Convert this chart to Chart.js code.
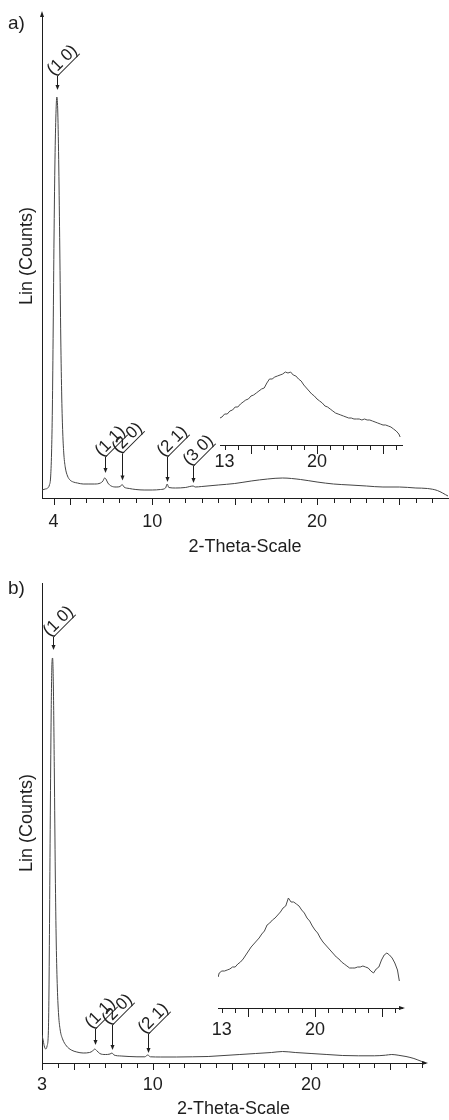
<!DOCTYPE html>
<html>
<head>
<meta charset="utf-8">
<title>XRD patterns</title>
<script src="https://cdn.jsdelivr.net/npm/chart.js@4.4.0/dist/chart.umd.min.js"></script>
<style>
  body { margin: 0; background: #fff; }
  #wrap { position: relative; width: 449px; height: 1120px; overflow: hidden; }
  #wrap canvas { position: absolute; }
</style>
</head>
<body>
<div id="wrap">
  <canvas id="chartA" width="449" height="560" style="left:0;top:0"></canvas>
  <canvas id="insetA" width="240" height="150" style="left:190px;top:330px"></canvas>
  <canvas id="chartB" width="449" height="560" style="left:0;top:560px"></canvas>
  <canvas id="insetB" width="240" height="190" style="left:190px;top:870px"></canvas>
</div>
<script>
// ---- pattern a ----
var thetaA = [3.3, 3.5, 3.65, 3.75, 3.82, 3.88, 3.93, 3.98, 4.03, 4.08, 4.14, 4.2, 4.26, 4.32, 4.38, 4.44, 4.5, 4.56, 4.63, 4.72,
  4.85, 5.0, 5.2, 5.45, 5.8, 6.1, 6.5, 6.85, 7.0, 7.1, 7.18, 7.3, 7.5, 7.8, 8.05, 8.16, 8.28, 8.6, 9.0, 9.5,
  10.0, 10.5, 10.8, 10.9, 11.0, 11.4, 12.0, 12.48, 12.6, 13.0, 14.0, 15.0, 16.0, 17.0, 17.9, 19.0, 20.0, 21.0, 22.0, 23.0,
  24.0, 25.0, 26.0, 26.7, 27.3, 27.95];
var countsA = [80, 90, 100, 130, 200, 450, 900, 1700, 2600, 3300, 3800, 4010, 3850, 3300, 2500, 1600, 1000, 650, 430, 300,
  220, 180, 160, 150, 140, 140, 140, 150, 170, 200, 190, 150, 120, 110, 115, 135, 110, 95, 85, 80,
  80, 85, 100, 140, 105, 100, 105, 120, 110, 115, 130, 145, 170, 190, 200, 185, 160, 140, 130, 120,
  110, 110, 100, 95, 75, 20];
var ticksA = [4, 10, 20];
var peakThetaA = [4.2, 7.1, 8.16, 10.9, 12.48];
var peakNamesA = ['(1 0)', '(1 1)', '(2 0)', '(2 1)', '(3 0)'];

// inset a: amorphous hump, magnified
var insetThetaA = [12.65,
  12.8, 13.0, 13.2, 13.4, 13.6, 13.8, 14.0, 14.2, 14.4, 14.6,
  14.8, 15.0, 15.2, 15.4, 15.6, 15.8, 16.0, 16.2, 16.4, 16.6,
  16.8, 17.0, 17.2, 17.4, 17.6, 17.8, 18.0, 18.2, 18.4, 18.6,
  18.8, 19.0, 19.2, 19.4, 19.6, 19.8, 20.0, 20.2, 20.4, 20.6,
  20.8, 21.0, 21.2, 21.4, 21.6, 21.8, 22.0, 22.2, 22.4, 22.6,
  22.8, 23.0, 23.2, 23.4, 23.6, 23.8, 24.0, 24.2, 24.4, 24.6,
  24.8, 25.0, 25.2, 25.4, 25.6, 25.8, 26.0, 26.2, 26.3];
var insetCountsA = [27,
  28, 31, 31, 34, 35, 38, 38, 41, 43, 45,
  46, 49, 50, 52, 54, 56, 57, 62, 66, 66,
  68, 69, 70, 71, 73, 72, 73, 70, 69, 66,
  64, 60, 57, 54, 51, 49, 46, 44, 42, 39,
  38, 36, 34, 32, 31, 30, 29, 28, 27, 27,
  26, 26, 26, 25, 26, 25, 25, 24, 23, 22,
  21, 20, 20, 19, 18, 16, 14, 11, 8];

// ---- pattern b ----
var thetaB = [3.0, 3.08, 3.16, 3.24, 3.32, 3.4, 3.44, 3.48, 3.53, 3.58, 3.63, 3.67, 3.72, 3.78, 3.84, 3.9, 3.97, 4.05, 4.15, 4.3,
  4.55, 4.85, 5.2, 5.6, 6.0, 6.2, 6.33, 6.45, 6.65, 7.0, 7.3, 7.42, 7.55, 8.0, 8.5, 9.0, 9.5, 9.68, 9.85, 10.5,
  11.5, 12.5, 13.5, 14.5, 15.5, 16.5, 17.5, 18.2, 19.0, 20.0, 21.0, 22.0, 23.0, 24.0, 24.7, 25.1, 25.5, 26.0, 26.5, 27.0,
  27.2];
var countsB = [280, 220, 160, 140, 170, 300, 700, 1500, 2600, 3500, 4000, 4050, 3750, 2900, 1900, 1200, 750, 480, 330, 240,
  170, 130, 110, 100, 105, 120, 140, 125, 95, 85, 90, 100, 80, 70, 65, 62, 62, 80, 62, 60,
  60, 62, 65, 75, 85, 95, 105, 115, 105, 95, 85, 75, 72, 72, 78, 85, 78, 65, 45, 15,
  5];
var ticksB = [3, 10, 20];
var peakThetaB = [3.67, 6.33, 7.42, 9.68];
var peakNamesB = ['(1 0)', '(1 1)', '(2 0)', '(2 1)'];

var insetThetaB = [12.72,
  12.8, 13.0, 13.2, 13.4, 13.6, 13.8, 14.0, 14.2, 14.4, 14.6,
  14.8, 15.0, 15.2, 15.4, 15.6, 15.8, 16.0, 16.2, 16.4, 16.6,
  16.8, 17.0, 17.2, 17.4, 17.6, 17.8, 18.0, 18.2, 18.4, 18.6,
  18.8, 19.0, 19.2, 19.4, 19.6, 19.8, 20.0, 20.2, 20.4, 20.6,
  20.8, 21.0, 21.2, 21.4, 21.6, 21.8, 22.0, 22.2, 22.4, 22.6,
  22.8, 23.0, 23.2, 23.4, 23.6, 23.8, 24.0, 24.2, 24.4, 24.6,
  24.8, 25.0, 25.2, 25.4, 25.6, 25.8, 26.0, 26.2, 26.34];
var insetCountsB = [31,
  35, 37, 37, 38, 39, 41, 41, 44, 46, 49,
  53, 57, 61, 64, 67, 70, 74, 77, 83, 85,
  88, 90, 93, 96, 100, 102, 110, 106, 106, 104,
  102, 98, 95, 90, 87, 82, 78, 75, 70, 66,
  63, 60, 57, 54, 51, 49, 46, 44, 42, 40,
  40, 40, 41, 41, 42, 41, 40, 37, 35, 39,
  41, 48, 53, 55, 53, 50, 45, 38, 27];
var insetTicks = [13, 20];

var FONT = '"Liberation Sans", Arial, Helvetica, sans-serif';
var INK = '#1e1e1e';
Chart.defaults.font.family = FONT;
Chart.defaults.color = INK;

function pairs(xs, ys) {
  return xs.map(function (t, i) { return { x: t, y: ys[i] }; });
}

// integer tick marks under the x axis, arrowheads, peak markers, panel letter
var xrdDecor = {
  id: 'xrdDecor',
  afterDraw: function (chart, args, o) {
    var ctx = chart.ctx, xs = chart.scales.x, ys = chart.scales.y, a = chart.chartArea;
    ctx.save();
    ctx.strokeStyle = INK;
    ctx.fillStyle = INK;
    ctx.lineWidth = 1;

    xs.ticks.forEach(function (t) {
      var px = Math.round(xs.getPixelForValue(t.value)) + 0.5;
      var major = t.value % 5 === 0 || o.labelled.indexOf(t.value) >= 0;
      ctx.beginPath();
      ctx.moveTo(px, a.bottom);
      ctx.lineTo(px, a.bottom + (major ? o.major : o.minor));
      ctx.stroke();
    });

    if (o.arrowUp) {
      ctx.beginPath();
      ctx.moveTo(a.left, a.top - 3);
      ctx.lineTo(a.left - 2, a.top + 3);
      ctx.lineTo(a.left + 2, a.top + 3);
      ctx.closePath();
      ctx.fill();
    }
    if (o.arrowRight) {
      ctx.beginPath();
      ctx.moveTo(a.right + 3, a.bottom);
      ctx.lineTo(a.right - 3, a.bottom - 2);
      ctx.lineTo(a.right - 3, a.bottom + 2);
      ctx.closePath();
      ctx.fill();
    }

    if (o.peaks) {
      var pts = chart.data.datasets[0].data;
      ctx.font = '17px ' + FONT;
      o.peaks.forEach(function (th, i) {
        var near = pts.reduce(function (p, q) {
          return Math.abs(q.x - th) < Math.abs(p.x - th) ? q : p;
        });
        var px = Math.round(xs.getPixelForValue(th)) + 0.5;
        var tip = ys.getPixelForValue(near.y) - o.gaps[i];
        var top = tip - o.stems[i];
        ctx.beginPath();
        ctx.moveTo(px, top);
        ctx.lineTo(px, tip - 4);
        ctx.stroke();
        ctx.beginPath();
        ctx.moveTo(px, tip);
        ctx.lineTo(px - 2, tip - 5);
        ctx.lineTo(px + 2, tip - 5);
        ctx.closePath();
        ctx.fill();

        // label turned 45 degrees, sitting on a leader from the stem top
        ctx.save();
        ctx.translate(px, top);
        ctx.rotate(-Math.PI / 4);
        var w = ctx.measureText(o.names[i]).width;
        ctx.beginPath();
        ctx.moveTo(0, 0);
        ctx.lineTo(w * 0.9, 0);
        ctx.stroke();
        ctx.textBaseline = 'alphabetic';
        ctx.fillText(o.names[i], -3, -3);
        ctx.restore();
      });
    }

    if (o.letter) {
      ctx.font = '19px ' + FONT;
      ctx.textBaseline = 'alphabetic';
      ctx.fillText(o.letter, o.letterAt[0], o.letterAt[1]);
    }
    ctx.restore();
  }
};

function intTicks(scale) {
  var out = [];
  for (var v = Math.ceil(scale.min); v <= Math.floor(scale.max); v++) out.push({ value: v });
  scale.ticks = out;
}

function mainChart(id, xs, ys, cfg) {
  return new Chart(document.getElementById(id), {
    type: 'line',
    data: {
      datasets: [{
        data: pairs(xs, ys),
        borderColor: '#444',
        borderWidth: 1,
        pointRadius: 0,
        cubicInterpolationMode: 'monotone'
      }]
    },
    options: {
      responsive: false,
      animation: false,
      layout: { padding: cfg.pad },
      scales: {
        x: {
          type: 'linear',
          min: cfg.xmin,
          max: cfg.xmax,
          afterBuildTicks: intTicks,
          grid: { display: false, drawTicks: false },
          border: { display: true, color: INK, width: 1 },
          ticks: {
            autoSkip: false,
            maxRotation: 0,
            padding: cfg.tickPad,
            font: { size: 18 },
            callback: function (v) { return cfg.labels.indexOf(v) >= 0 ? String(v) : ''; }
          },
          title: { display: true, text: '2-Theta-Scale', font: { size: 18 }, padding: cfg.xTitlePad }
        },
        y: {
          min: 0,
          max: cfg.ymax,
          grid: { display: false, drawTicks: false },
          border: { display: true, color: INK, width: 1 },
          ticks: { display: false },
          title: { display: true, text: 'Lin (Counts)', font: { size: 18 }, padding: { top: 2.2, bottom: 4.2 } }
        }
      },
      plugins: {
        legend: { display: false },
        tooltip: { enabled: false },
        xrdDecor: {
          labelled: cfg.labels, major: 7, minor: 5,
          arrowUp: cfg.arrowUp, arrowRight: cfg.arrowRight,
          peaks: cfg.peaks, names: cfg.names, stems: cfg.stems, gaps: cfg.gaps,
          letter: cfg.letter, letterAt: cfg.letterAt
        }
      }
    },
    plugins: [xrdDecor]
  });
}

function insetChart(id, xs, ys, cfg) {
  return new Chart(document.getElementById(id), {
    type: 'line',
    data: {
      datasets: [{
        data: pairs(xs, ys),
        borderColor: '#4a4a4a',
        borderWidth: 1,
        pointRadius: 0,
        tension: 0
      }]
    },
    options: {
      responsive: false,
      animation: false,
      layout: { padding: cfg.pad },
      scales: {
        x: {
          type: 'linear',
          min: cfg.xmin,
          max: cfg.xmax,
          afterBuildTicks: intTicks,
          grid: { display: false, drawTicks: false },
          border: { display: true, color: INK, width: 1 },
          ticks: {
            autoSkip: false,
            maxRotation: 0,
            padding: cfg.tickPad,
            font: { size: 18 },
            callback: function (v) { return insetTicks.indexOf(v) >= 0 ? String(v) : ''; }
          }
        },
        y: { display: false, min: 0, max: cfg.ymax }
      },
      plugins: {
        legend: { display: false },
        tooltip: { enabled: false },
        xrdDecor: { labelled: [], major: 9, minor: 5, arrowRight: cfg.arrowRight }
      }
    },
    plugins: [xrdDecor]
  });
}

mainChart('chartA', thetaA, countsA, {
  pad: { left: 14, top: 14, right: 1, bottom: 0 },
  xmin: 3.3, xmax: 27.95, ymax: 4840,
  tickPad: 13.2, xTitlePad: { top: -9.8, bottom: 2.2 },
  labels: ticksA,
  arrowUp: true, arrowRight: false,
  peaks: peakThetaA, names: peakNamesA,
  stems: [14, 16, 27, 25, 17], gaps: [7, 5, 4, 2, 3],
  letter: 'a)', letterAt: [8, 29]
});

insetChart('insetA', insetThetaA, insetCountsA, {
  pad: { left: 30, top: 15, right: 28, bottom: 1 },
  xmin: 12.65, xmax: 26.44, ymax: 100, tickPad: 6.2, arrowRight: false
});

mainChart('chartB', thetaB, countsB, {
  pad: { left: 14, top: 23, right: 24, bottom: 0 },
  xmin: 3.0, xmax: 27.2, ymax: 4800,
  tickPad: 11.2, xTitlePad: { top: -8.8, bottom: 0.2 },
  labels: ticksB,
  arrowUp: false, arrowRight: true,
  peaks: peakThetaB, names: peakNamesB,
  stems: [13, 16, 25, 19], gaps: [8, 4, 3, 2],
  letter: 'b)', letterAt: [8, 34]
});

insetChart('insetB', insetThetaB, insetCountsB, {
  pad: { left: 28, top: 18, right: 28, bottom: 8 },
  xmin: 12.71, xmax: 26.54, ymax: 120, tickPad: 11.2, arrowRight: true
});
</script>
</body>
</html>
